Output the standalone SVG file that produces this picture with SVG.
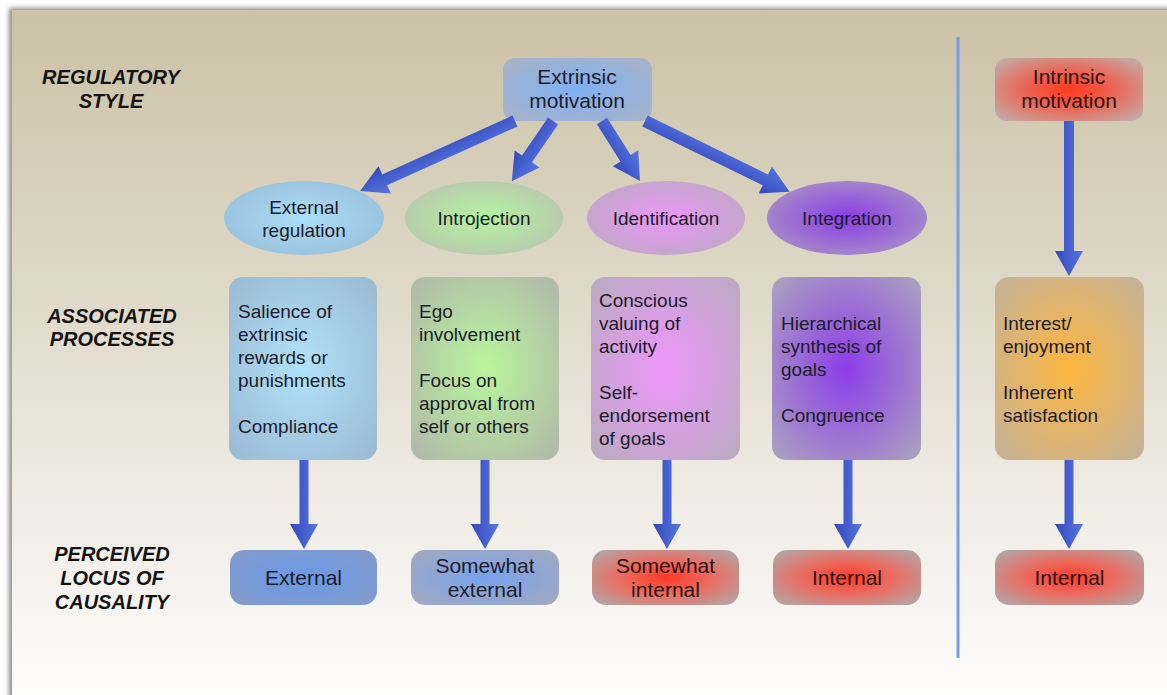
<svg xmlns="http://www.w3.org/2000/svg" width="1167" height="695" viewBox="0 0 1167 695">
<defs>
<linearGradient id="bg" x1="0" y1="0" x2="0" y2="1">
<stop offset="0" stop-color="#cbc1a6"/>
<stop offset="0.35" stop-color="#dcd5c3"/>
<stop offset="0.65" stop-color="#ece8df"/>
<stop offset="0.85" stop-color="#f6f4f0"/>
<stop offset="1" stop-color="#fdfdfc"/>
</linearGradient>
<filter id="sh" x="-5%" y="-5%" width="110%" height="110%"><feGaussianBlur stdDeviation="2.5"/></filter>
<linearGradient id="arr" x1="0" y1="0" x2="0" y2="1">
<stop offset="0" stop-color="#5676dc"/>
<stop offset="0.5" stop-color="#4660cf"/>
<stop offset="1" stop-color="#3347bd"/>
</linearGradient>
<radialGradient id="gExt" r="0.65"><stop offset="0" stop-color="#7fb0f4"/><stop offset="1" stop-color="#a7b3c9"/></radialGradient>
<radialGradient id="gInt" r="0.65"><stop offset="0" stop-color="#ff3b1e"/><stop offset="0.4" stop-color="#ee5e4c"/><stop offset="1" stop-color="#c4aaa6"/></radialGradient>
<radialGradient id="eExt" r="0.6"><stop offset="0" stop-color="#abdef7"/><stop offset="1" stop-color="#98bedb"/></radialGradient>
<radialGradient id="eIntro" r="0.6"><stop offset="0" stop-color="#b5f4a0"/><stop offset="1" stop-color="#b8c5b0"/></radialGradient>
<radialGradient id="eIdent" r="0.6"><stop offset="0" stop-color="#ec96f8"/><stop offset="1" stop-color="#bea9c6"/></radialGradient>
<radialGradient id="eInteg" r="0.6"><stop offset="0" stop-color="#8a3ce6"/><stop offset="1" stop-color="#a993c6"/></radialGradient>
<radialGradient id="pExt" r="0.65"><stop offset="0" stop-color="#b0e2f9"/><stop offset="1" stop-color="#9cbcd6"/></radialGradient>
<radialGradient id="pIntro" r="0.65"><stop offset="0" stop-color="#b9f69c"/><stop offset="1" stop-color="#b1bba9"/></radialGradient>
<radialGradient id="pIdent" r="0.65"><stop offset="0" stop-color="#ee96fb"/><stop offset="1" stop-color="#bcaac4"/></radialGradient>
<radialGradient id="pInteg" r="0.65"><stop offset="0" stop-color="#8c3ce9"/><stop offset="1" stop-color="#a99cc2"/></radialGradient>
<radialGradient id="pIntr" r="0.65"><stop offset="0" stop-color="#feb73e"/><stop offset="1" stop-color="#c7b294"/></radialGradient>
<radialGradient id="bExt" r="0.65"><stop offset="0" stop-color="#6a9ae8"/><stop offset="1" stop-color="#829bcb"/></radialGradient>
<radialGradient id="bSExt" r="0.65"><stop offset="0" stop-color="#78a2ee"/><stop offset="1" stop-color="#a0a9c0"/></radialGradient>
<radialGradient id="bRed" r="0.65"><stop offset="0" stop-color="#ff3826"/><stop offset="0.45" stop-color="#ec6a5e"/><stop offset="1" stop-color="#b3a5a5"/></radialGradient>
</defs>
<style>
.lbl{font-family:"Liberation Sans",Arial,sans-serif;font-weight:bold;font-style:italic;font-size:20px;fill:#141414;text-anchor:middle}
.t{font-family:"Liberation Sans",Arial,sans-serif;fill:#1c1c2a}
.top{font-size:21px;text-anchor:middle}
.ell{font-size:19px;text-anchor:middle}
.proc{font-size:19px}
.bot{font-size:21px;text-anchor:middle}
.red{fill:#2a1414}
.arrow{fill:url(#arr)}
</style>
<rect width="1167" height="695" fill="#ffffff"/>
<rect x="9" y="8" width="1170" height="700" fill="#8a8a8a" filter="url(#sh)"/>
<rect x="12" y="10" width="1160" height="690" fill="url(#bg)"/>

<g id="labels">
<text class="lbl" x="111" y="84">REGULATORY</text>
<text class="lbl" x="111" y="108">STYLE</text>
<text class="lbl" x="112" y="323">ASSOCIATED</text>
<text class="lbl" x="112" y="346">PROCESSES</text>
<text class="lbl" x="112" y="561">PERCEIVED</text>
<text class="lbl" x="112" y="585">LOCUS OF</text>
<text class="lbl" x="112" y="609">CAUSALITY</text>
</g>

<line x1="958" y1="37" x2="958" y2="658" stroke="#72a0ec" stroke-width="3"/>

<g id="extrinsic">
<rect x="503" y="58" width="149" height="63" rx="12" fill="url(#gExt)"/>
<text class="t top" x="577" y="84">Extrinsic</text>
<text class="t top" x="577" y="108">motivation</text>
</g>
<g id="intrinsic">
<rect x="995" y="58" width="148" height="63" rx="12" fill="url(#gInt)"/>
<text class="t top red" x="1069" y="84">Intrinsic</text>
<text class="t top red" x="1069" y="108">motivation</text>
</g>

<g id="external-regulation">
<ellipse cx="304" cy="218" rx="80" ry="37" fill="url(#eExt)"/>
<text class="t ell" x="304" y="214">External</text>
<text class="t ell" x="304" y="237">regulation</text>
</g>
<g id="introjection">
<ellipse cx="484" cy="218" rx="79" ry="37" fill="url(#eIntro)"/>
<text class="t ell" x="484" y="225">Introjection</text>
</g>
<g id="identification">
<ellipse cx="666" cy="218" rx="79" ry="37" fill="url(#eIdent)"/>
<text class="t ell" x="666" y="225">Identification</text>
</g>
<g id="integration">
<ellipse cx="847" cy="218" rx="80" ry="37" fill="url(#eInteg)"/>
<text class="t ell" x="847" y="225">Integration</text>
</g>

<g id="proc-external">
<rect x="229" y="277" width="148" height="183" rx="14" fill="url(#pExt)"/>
<text class="t proc" x="238" y="318">Salience of</text>
<text class="t proc" x="238" y="341">extrinsic</text>
<text class="t proc" x="238" y="364">rewards or</text>
<text class="t proc" x="238" y="387">punishments</text>
<text class="t proc" x="238" y="433">Compliance</text>
</g>
<g id="proc-introjection">
<rect x="411" y="277" width="148" height="183" rx="14" fill="url(#pIntro)"/>
<text class="t proc" x="419" y="318">Ego</text>
<text class="t proc" x="419" y="341">involvement</text>
<text class="t proc" x="419" y="387">Focus on</text>
<text class="t proc" x="419" y="410">approval from</text>
<text class="t proc" x="419" y="433">self or others</text>
</g>
<g id="proc-identification">
<rect x="591" y="277" width="149" height="183" rx="14" fill="url(#pIdent)"/>
<text class="t proc" x="599" y="307">Conscious</text>
<text class="t proc" x="599" y="330">valuing of</text>
<text class="t proc" x="599" y="353">activity</text>
<text class="t proc" x="599" y="399">Self-</text>
<text class="t proc" x="599" y="422">endorsement</text>
<text class="t proc" x="599" y="445">of goals</text>
</g>
<g id="proc-integration">
<rect x="772" y="277" width="149" height="183" rx="14" fill="url(#pInteg)"/>
<text class="t proc" x="781" y="330">Hierarchical</text>
<text class="t proc" x="781" y="353">synthesis of</text>
<text class="t proc" x="781" y="376">goals</text>
<text class="t proc" x="781" y="422">Congruence</text>
</g>
<g id="proc-intrinsic">
<rect x="995" y="277" width="149" height="183" rx="14" fill="url(#pIntr)"/>
<text class="t proc" x="1003" y="330">Interest/</text>
<text class="t proc" x="1003" y="353">enjoyment</text>
<text class="t proc" x="1003" y="399">Inherent</text>
<text class="t proc" x="1003" y="422">satisfaction</text>
</g>

<g id="locus-external">
<rect x="230" y="550" width="147" height="55" rx="14" fill="url(#bExt)"/>
<text class="t bot" x="303.5" y="585">External</text>
</g>
<g id="locus-somewhat-external">
<rect x="411" y="550" width="148" height="55" rx="14" fill="url(#bSExt)"/>
<text class="t bot" x="485" y="573">Somewhat</text>
<text class="t bot" x="485" y="597">external</text>
</g>
<g id="locus-somewhat-internal">
<rect x="592" y="550" width="147" height="55" rx="14" fill="url(#bRed)"/>
<text class="t bot red" x="665.5" y="573">Somewhat</text>
<text class="t bot red" x="665.5" y="597">internal</text>
</g>
<g id="locus-internal">
<rect x="773" y="550" width="148" height="55" rx="14" fill="url(#bRed)"/>
<text class="t bot red" x="847" y="585">Internal</text>
</g>
<g id="locus-internal-intrinsic">
<rect x="995" y="550" width="149" height="55" rx="14" fill="url(#bRed)"/>
<text class="t bot red" x="1069.5" y="585">Internal</text>
</g>

<g id="connectors">
<path class="arrow" d="M0,-6 H143 V-15 L170,0 L143,15 V6 H0 Z" transform="translate(515,121) rotate(155.7)"/>
<path class="arrow" d="M0,-6 H46 V-15 L73,0 L46,15 V6 H0 Z" transform="translate(553,121) rotate(124.35)"/>
<path class="arrow" d="M0,-6 H44 V-15 L71,0 L44,15 V6 H0 Z" transform="translate(602,121) rotate(57.65)"/>
<path class="arrow" d="M0,-6 H134 V-15 L161,0 L134,15 V6 H0 Z" transform="translate(645,121) rotate(26.1)"/>
<path class="arrow" d="M0,-5 H130 V-14 L155,0 L130,14 V5 H0 Z" transform="translate(1069,121) rotate(90)"/>
<path class="arrow" d="M0,-4.5 H64 V-14 L89,0 L64,14 V4.5 H0 Z" transform="translate(304,460) rotate(90)"/>
<path class="arrow" d="M0,-4.5 H64 V-14 L89,0 L64,14 V4.5 H0 Z" transform="translate(485,460) rotate(90)"/>
<path class="arrow" d="M0,-4.5 H64 V-14 L89,0 L64,14 V4.5 H0 Z" transform="translate(667,460) rotate(90)"/>
<path class="arrow" d="M0,-4.5 H64 V-14 L89,0 L64,14 V4.5 H0 Z" transform="translate(848,460) rotate(90)"/>
<path class="arrow" d="M0,-4.5 H64 V-14 L89,0 L64,14 V4.5 H0 Z" transform="translate(1069,460) rotate(90)"/>
</g>
</svg>
